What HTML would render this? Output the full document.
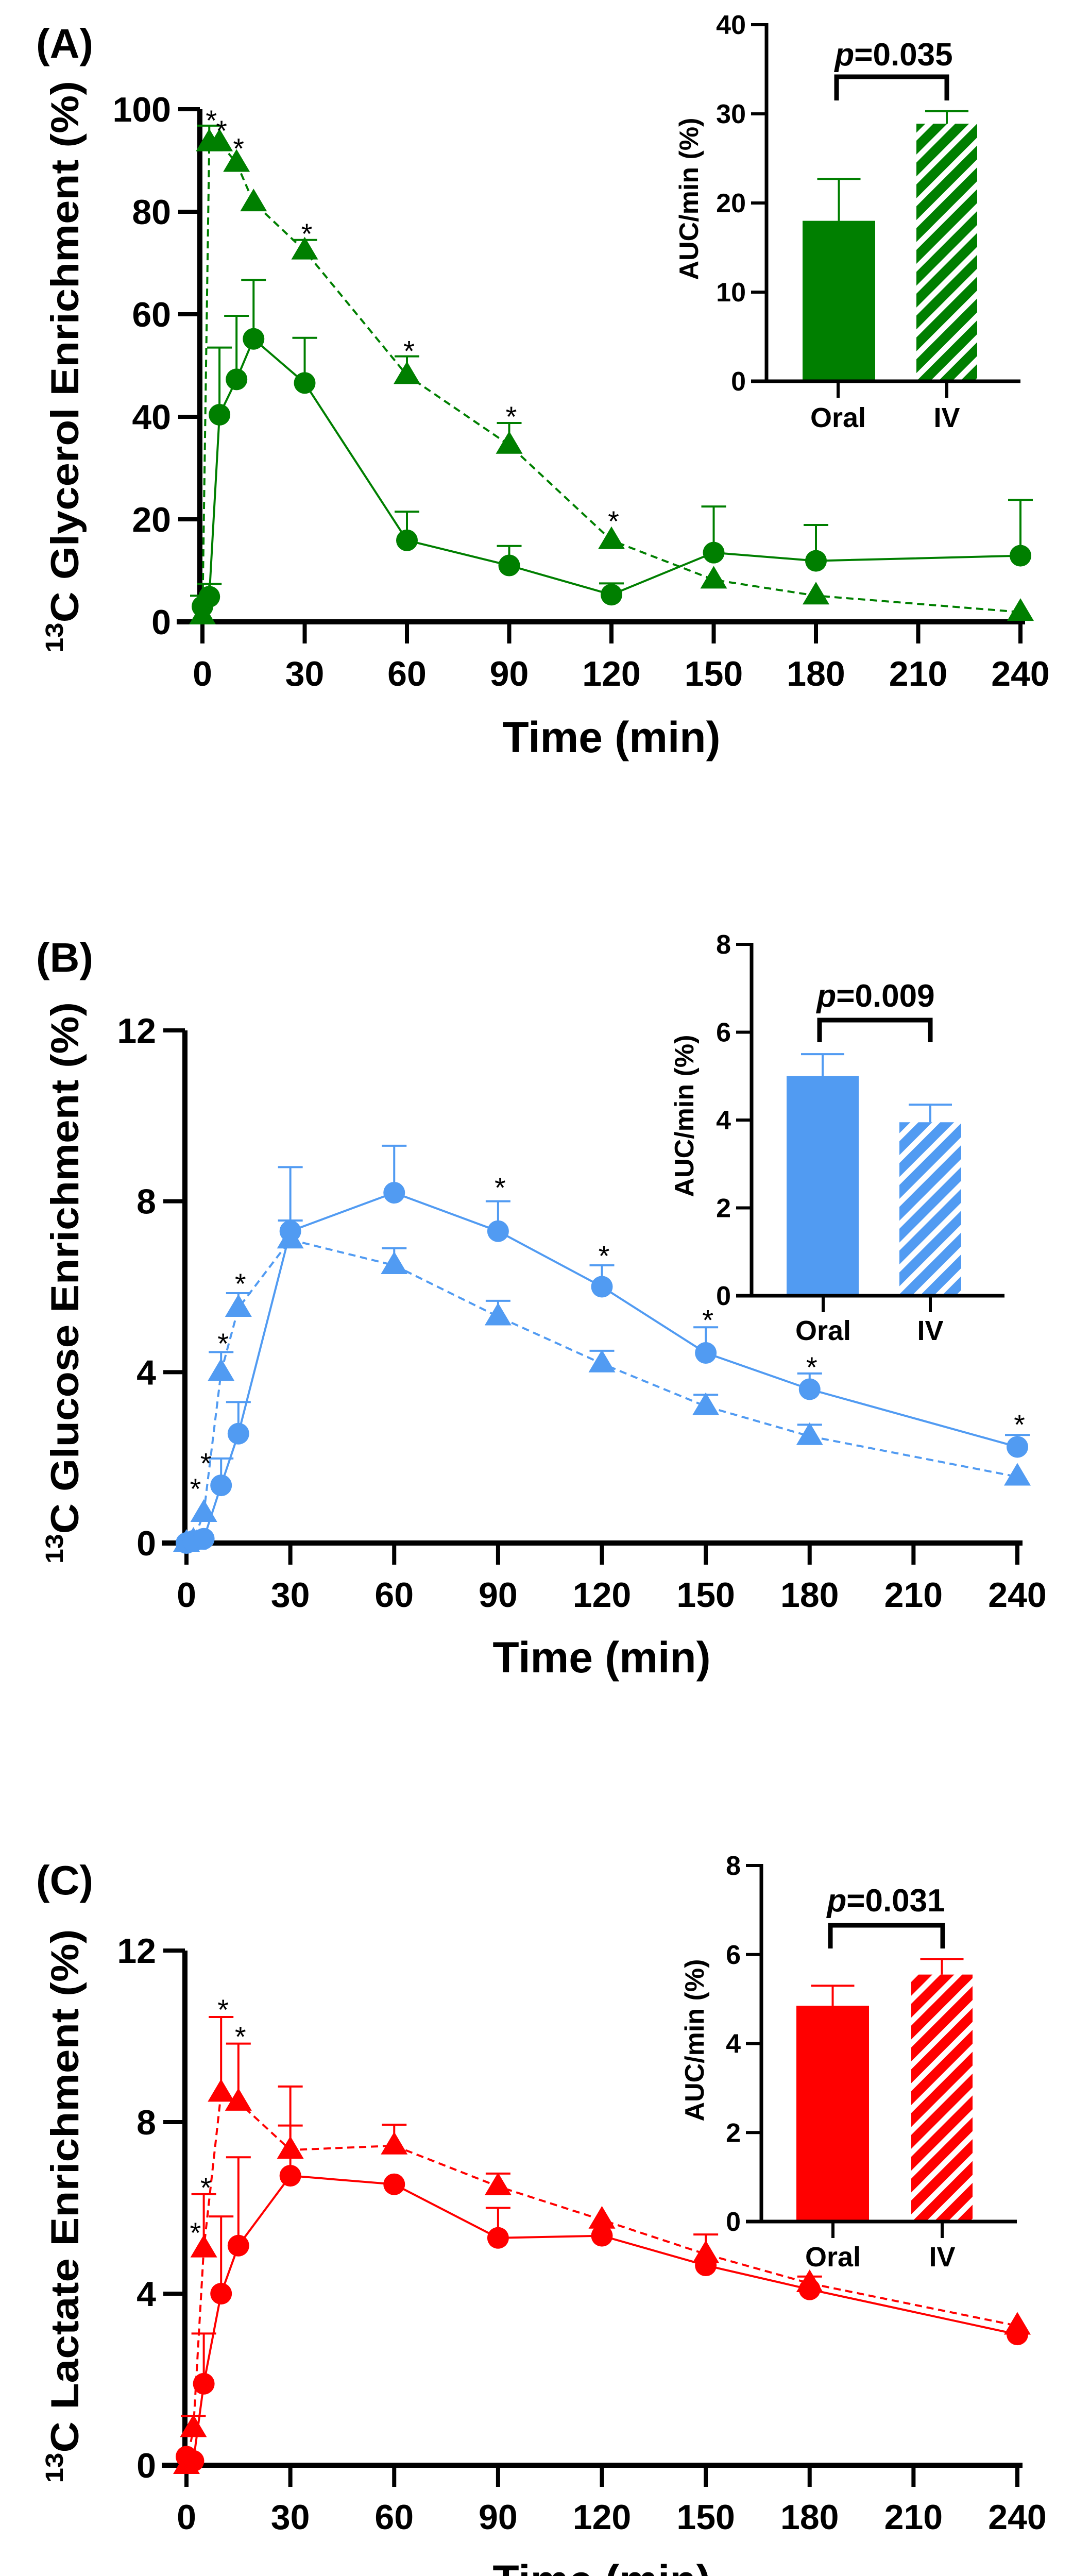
<!DOCTYPE html>
<html><head><meta charset="utf-8"><style>
html,body{margin:0;padding:0;background:#fff;width:2083px;height:5080px;overflow:hidden;}
svg{display:block;font-family:"Liberation Sans",Arial,sans-serif;font-weight:bold;}
</style></head><body>
<svg id="fig" width="2083" height="5080" viewBox="0 0 2083 5080" xmlns="http://www.w3.org/2000/svg">
<defs>
<pattern id="hatch-green" patternUnits="userSpaceOnUse" width="30" height="30" patternTransform="rotate(45)"><rect width="30" height="30" fill="#007f00"/><rect x="0" width="11" height="30" fill="#fff"/></pattern>
<pattern id="hatch-blue" patternUnits="userSpaceOnUse" width="30" height="30" patternTransform="rotate(45)"><rect width="30" height="30" fill="#519bf2"/><rect x="0" width="11" height="30" fill="#fff"/></pattern>
<pattern id="hatch-red" patternUnits="userSpaceOnUse" width="30" height="30" patternTransform="rotate(45)"><rect width="30" height="30" fill="#ff0000"/><rect x="0" width="11" height="30" fill="#fff"/></pattern>
</defs>
<text x="70" y="112" font-size="80">(A)</text>
<text x="70" y="1886" font-size="80">(B)</text>
<text x="70" y="3677" font-size="80">(C)</text>
<text transform="translate(152,712) rotate(-90)" text-anchor="middle" font-size="76" textLength="1110" lengthAdjust="spacingAndGlyphs"><tspan font-size="48" dy="-30">13</tspan><tspan dy="30">C Glycerol Enrichment (%)</tspan></text>
<text transform="translate(152,2490) rotate(-90)" text-anchor="middle" font-size="76" textLength="1090" lengthAdjust="spacingAndGlyphs"><tspan font-size="48" dy="-30">13</tspan><tspan dy="30">C Glucose Enrichment (%)</tspan></text>
<text transform="translate(152,4282) rotate(-90)" text-anchor="middle" font-size="76" textLength="1075" lengthAdjust="spacingAndGlyphs"><tspan font-size="48" dy="-30">13</tspan><tspan dy="30">C Lactate Enrichment (%)</tspan></text>
<text x="1187" y="1460" text-anchor="middle" font-size="84">Time (min)</text>
<text x="1168" y="3246" text-anchor="middle" font-size="84">Time (min)</text>
<text x="1168" y="5038" text-anchor="middle" font-size="84">Time (min)</text>
<text transform="translate(1355,386) rotate(-90)" text-anchor="middle" font-size="52">AUC/min (%)</text>
<text transform="translate(1346,2166) rotate(-90)" text-anchor="middle" font-size="52">AUC/min (%)</text>
<text transform="translate(1366,3960) rotate(-90)" text-anchor="middle" font-size="52">AUC/min (%)</text>
<text x="1735" y="127" text-anchor="middle" font-size="62"><tspan font-style="italic">p</tspan>=0.035</text>
<text x="1700" y="1954" text-anchor="middle" font-size="62"><tspan font-style="italic">p</tspan>=0.009</text>
<text x="1720" y="3710" text-anchor="middle" font-size="62"><tspan font-style="italic">p</tspan>=0.031</text>
<g id="plots"></g>
</svg>
<script>
// ---- shared data ----
const times = [0, 2, 5, 10, 15, 30, 60, 90, 120, 150, 180, 240];
const xTickLabels = ["0", "30", "60", "90", "120", "150", "180", "210", "240"];
const barCategories = ["Oral", "IV"];

// ---- Panel A: glycerol ----
const glyOral = [3.0, 4.9, 40.4, 47.3, 55.2, 46.6, 15.9, 11.0, 5.3, 13.5, 11.9, 12.9];
const glyOralErr = [5.1, 7.4, 53.5, 59.7, 66.7, 55.4, 21.5, 14.8, 7.5, 22.5, 18.9, 23.8];
const glyIV = [1.2, 93.5, 93.5, 89.5, 81.8, 72.4, 48.1, 34.5, 15.9, 8.2, 5.1, 1.9];
const glyIVErr = [null, 96.8, null, null, null, 74.5, 51.8, 38.8, null, null, null, null];
const glyStarTimes = [2, 5, 10, 30, 60, 90, 120];
const glyStarVals = [98.5, 96.5, 93, 76.4, 53.5, 40.7, 20.3];
const glyYTicks = [0, 20, 40, 60, 80, 100];
const glyAUC = [18.0, 28.9];
const glyAUCErr = [22.7, 30.3];
const glyAUCTicks = [0, 10, 20, 30, 40];

// ---- Panel B: glucose ----
const gluOral = [0, 0.05, 0.1, 1.35, 2.56, 7.3, 8.2, 7.3, 6.0, 4.45, 3.6, 2.25];
const gluOralErr = [null, null, null, 1.98, 3.3, 8.8, 9.3, 8.0, 6.5, 5.05, 3.97, 2.53];
const gluIV = [0, 0.05, 0.7, 4.0, 5.5, 7.1, 6.5, 5.3, 4.2, 3.2, 2.5, 1.55];
const gluIVErr = [null, null, null, 4.47, 5.85, 7.55, 6.9, 5.67, 4.5, 3.47, 2.77, null];
const gluStarTimes = [2, 5, 10, 15, 90, 120, 150, 180, 240];
const gluStarVals = [1.35, 1.95, 4.75, 6.15, 8.4, 6.8, 5.3, 4.2, 2.85];
const gluYTicks = [0, 4, 8, 12];
const gluAUC = [5.0, 3.95];
const gluAUCErr = [5.5, 4.35];
const gluAUCTicks = [0, 2, 4, 6, 8];

// ---- Panel C: lactate ----
const lacOral = [0.2, 0.1, 1.9, 4.0, 5.12, 6.75, 6.55, 5.3, 5.35, 4.66, 4.1, 3.05];
const lacOralErr = [null, null, 3.07, 5.8, 7.18, 8.83, null, 6.0, null, null, null, null];
const lacIV = [0, 0.86, 5.05, 8.68, 8.47, 7.35, 7.45, 6.5, 5.72, 4.92, 4.24, 3.25];
const lacIVErr = [null, 1.15, 6.32, 10.45, 9.83, 7.92, 7.94, 6.8, null, 5.38, 4.4, null];
const lacStarTimes = [2, 5, 10, 15];
const lacStarVals = [5.5, 6.55, 10.7, 10.07];
const lacYTicks = [0, 4, 8, 12];
const lacAUC = [4.85, 5.55];
const lacAUCErr = [5.3, 5.9];
const lacAUCTicks = [0, 2, 4, 6, 8];

const NS = "http://www.w3.org/2000/svg";
const root = document.getElementById("plots");
function mk(tag, attrs) {
  const e = document.createElementNS(NS, tag);
  for (const k in attrs) e.setAttribute(k, attrs[k]);
  root.appendChild(e);
  return e;
}

function drawPanel(g) {
  const xs = t => g.t0x + (g.t240x - g.t0x) * t / 240;
  const ys = v => g.y0 - (g.y0 - g.yTopPx) * v / g.yMax;
  const ya = mk("line", {x1: g.ax, y1: g.yTopPx, x2: g.ax, y2: g.y0 + 5, stroke: "#000", "stroke-width": 10});
  
  
  const xa = mk("line", {x1: g.ax - 45, y1: g.y0, x2: g.xEnd, y2: g.y0, stroke: "#000", "stroke-width": 10});
  
  
  g.yTicks.forEach(v => {
    const tk = mk("line", {x1: g.ax - 42, y1: ys(v), x2: g.ax, y2: ys(v), stroke: "#000", "stroke-width": 8});
    
    
    const tl = mk("text", {x: g.ax - 56, y: ys(v) + 24, "text-anchor": "end", "font-size": 68});
    tl.textContent = String(v);
    
    
  });
  xTickLabels.forEach(s => {
    const t = Number(s);
    const tk = mk("line", {x1: xs(t), y1: g.y0, x2: xs(t), y2: g.y0 + 42, stroke: "#000", "stroke-width": 8});
    
    
    const tl = mk("text", {x: xs(t), y: g.y0 + 124, "text-anchor": "middle", "font-size": 68});
    tl.textContent = s;
    
    
  });
  [[g.iv, g.ivErr, "iv", true], [g.oral, g.oralErr, "oral", false]].forEach(([vals, errs, nm, dashed]) => {
    errs.forEach((e, i) => {
      if (e === null) return;
      const x = xs(times[i]);
      const el = mk("path", {d: `M${x},${ys(vals[i])} V${ys(e)} M${x - 24},${ys(e)} H${x + 24}`, stroke: g.color, "stroke-width": 4, fill: "none"});
      
      
    });
    const pts = times.map((t, i) => xs(t) + "," + ys(vals[i])).join(" ");
    const ln = mk("polyline", {points: pts, fill: "none", stroke: g.color, "stroke-width": 4, "stroke-dasharray": dashed ? "14,9" : "none"});
    
    
    vals.forEach((v, i) => {
      const x = xs(times[i]), y = ys(v);
      let m;
      if (dashed) {
        m = mk("polygon", {points: `${x},${y - 27} ${x - 26},${y + 17} ${x + 26},${y + 17}`, fill: g.color});
      } else {
        m = mk("circle", {cx: x, cy: y, r: 21, fill: g.color});
      }
      
      
    });
  });
  g.starT.forEach((t, i) => {
    const s = mk("text", {x: xs(t) + 4, y: ys(g.starV[i]) + 26, "text-anchor": "middle", "font-size": 56, "font-weight": "normal"});
    s.textContent = "*";
    
    
  });
  const b = g.bar;
  const bs = v => b.y0 - (b.y0 - b.yTopPx) * v / b.yMax;
  b.yTicks.forEach(v => {
    const tk = mk("line", {x1: b.ax - 30, y1: bs(v), x2: b.ax, y2: bs(v), stroke: "#000", "stroke-width": 6});
    
    
    const tl = mk("text", {x: b.ax - 40, y: bs(v) + 18, "text-anchor": "end", "font-size": 52});
    tl.textContent = String(v);
    
    
  });
  barCategories.forEach((c, i) => {
    const [l, r] = b.bx[i];
    const cx = (l + r) / 2;
    const eb = mk("path", {d: `M${cx},${bs(g.auc[i])} V${bs(g.aucErr[i])} M${cx - 42},${bs(g.aucErr[i])} H${cx + 42}`, stroke: g.color, "stroke-width": 4, fill: "none"});
    
    
    const r1 = mk("rect", {x: l, y: bs(g.auc[i]), width: r - l, height: bs(0) - bs(g.auc[i]), fill: i === 0 ? g.color : "url(#" + g.hatch + ")"});
    
    
    const tk = mk("line", {x1: b.tx[i], y1: b.y0, x2: b.tx[i], y2: b.y0 + 32, stroke: "#000", "stroke-width": 6});
    
    
    const tl = mk("text", {x: b.tx[i], y: b.labY + 20, "text-anchor": "middle", "font-size": 54});
    tl.textContent = c;
    
    
  });
  const by = mk("line", {x1: b.ax, y1: b.yTopPx - 3, x2: b.ax, y2: b.y0 + 3, stroke: "#000", "stroke-width": 7});
  
  
  const bxl = mk("line", {x1: b.ax - 30, y1: b.y0, x2: b.xEnd, y2: b.y0, stroke: "#000", "stroke-width": 7});
  
  
  const br = mk("path", {d: `M${b.br[0]},${b.br[3]} V${b.br[2]} H${b.br[1]} V${b.br[3]}`, stroke: "#000", "stroke-width": 9, fill: "none"});
  
  
}

drawPanel({color: "#007f00", hatch: "hatch-green", ax: 388, t0x: 393, t240x: 1981, y0: 1207, yTopPx: 212, yMax: 100, xEnd: 1990,
  yTicks: glyYTicks, oral: glyOral, oralErr: glyOralErr, iv: glyIV, ivErr: glyIVErr, starT: glyStarTimes, starV: glyStarVals,
  auc: glyAUC, aucErr: glyAUCErr,
  bar: {ax: 1488, y0: 740, yTopPx: 48, yMax: 40, yTicks: glyAUCTicks, bx: [[1558, 1699], [1779, 1897]], tx: [1627, 1838], xEnd: 1981, labY: 809, br: [1624, 1838, 149, 195]}});
drawPanel({color: "#519bf2", hatch: "hatch-blue", ax: 359, t0x: 362, t240x: 1975, y0: 2995, yTopPx: 2000, yMax: 12, xEnd: 1985,
  yTicks: gluYTicks, oral: gluOral, oralErr: gluOralErr, iv: gluIV, ivErr: gluIVErr, starT: gluStarTimes, starV: gluStarVals,
  auc: gluAUC, aucErr: gluAUCErr,
  bar: {ax: 1459, y0: 2515, yTopPx: 1833, yMax: 8, yTicks: gluAUCTicks, bx: [[1527, 1667], [1746, 1866]], tx: [1598, 1806], xEnd: 1950, labY: 2581, br: [1591, 1806, 1980, 2023]}});
drawPanel({color: "#ff0000", hatch: "hatch-red", ax: 359, t0x: 362, t240x: 1975, y0: 4785, yTopPx: 3786, yMax: 12, xEnd: 1985,
  yTicks: lacYTicks, oral: lacOral, oralErr: lacOralErr, iv: lacIV, ivErr: lacIVErr, starT: lacStarTimes, starV: lacStarVals,
  auc: lacAUC, aucErr: lacAUCErr,
  bar: {ax: 1478, y0: 4312, yTopPx: 3621, yMax: 8, yTicks: lacAUCTicks, bx: [[1546, 1687], [1769, 1888]], tx: [1617, 1829], xEnd: 1974, labY: 4379, br: [1612, 1830, 3737, 3782]}});
</script>
</body></html>
